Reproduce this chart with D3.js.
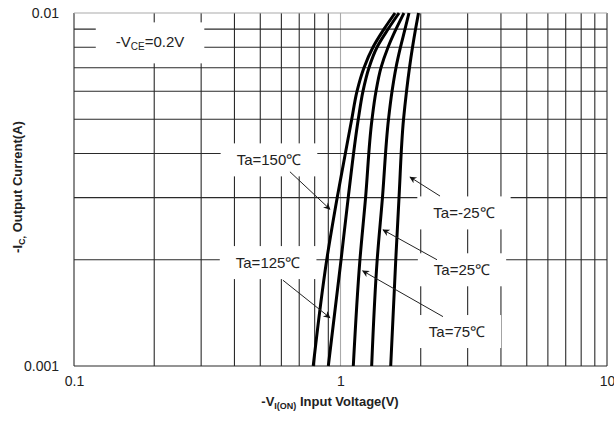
<!DOCTYPE html>
<html>
<head>
<meta charset="utf-8">
<script src="https://cdn.jsdelivr.net/npm/d3@7"></script>
<style>
body { margin: 0; background: #fff; }
svg { display: block; font-family: "Liberation Sans", Arial, sans-serif; }
</style>
</head>
<body>
<svg id="chart" width="614" height="421"></svg>
<script>
// -Ic (A) where each curve was read
const current = [0.001, 0.002, 0.003, 0.005, 0.006, 0.007, 0.008, 0.009, 0.01];
// -VI(on) (V) per ambient temperature
const v_150 = [0.790, 0.888, 0.972, 1.102, 1.153, 1.225, 1.324, 1.456, 1.602];
const v_125 = [0.900, 1.005, 1.069, 1.166, 1.214, 1.279, 1.371, 1.508, 1.658];
const v_75  = [1.117, 1.183, 1.242, 1.313, 1.359, 1.419, 1.508, 1.615, 1.730];
const v_25  = [1.309, 1.373, 1.437, 1.514, 1.561, 1.615, 1.679, 1.746, 1.807];
const v_m25 = [1.543, 1.612, 1.658, 1.724, 1.769, 1.815, 1.863, 1.912, 1.962];
const temps = ["150", "125", "75", "25", "-25"];
const xTicks = [0.1, 1, 10];
const yTicks = [0.001, 0.01];

const svg = d3.select("#chart");
const margin = {left: 74, right: 7, top: 13, bottom: 55};
const W = 614, H = 421;

const x = d3.scaleLog().domain([0.1, 10]).range([margin.left, W - margin.right]);
const y = d3.scaleLog().domain([0.001, 0.01]).range([H - margin.bottom, margin.top]);

const grid = svg.append("g");
// vertical grid
grid.selectAll(".vg")
	.data(x.ticks())
	.enter().append("line")
	.attr("x1", d => x(d)).attr("x2", d => x(d))
	.attr("y1", y(0.001)).attr("y2", y(0.01))
	.attr("stroke", d => d === 1 ? "#aaa" : "#2a2a2a")
	.attr("stroke-width", 1.1);
// horizontal grid
grid.selectAll(".hg")
	.data(y.ticks())
	.enter().append("line")
	.attr("x1", x(0.1)).attr("x2", x(10))
	.attr("y1", d => y(d)).attr("y2", d => y(d))
	.attr("stroke", d => d === 0.01 ? "#aaa" : "#2a2a2a")
	.attr("stroke-width", 1.1);

// axes (labels only)
const xAxis = svg.append("g")
	.attr("transform", "translate(0," + (y(0.001) + 7) + ")")
	.call(d3.axisBottom(x).tickValues(xTicks).tickSize(0).tickFormat(d => String(d)));
const yAxis = svg.append("g")
	.attr("transform", "translate(" + (x(0.1) - 12) + ",0)")
	.call(d3.axisLeft(y).tickValues(yTicks).tickSize(0).tickFormat(d => String(d)));
[xAxis, yAxis].forEach(a => {
	a.select(".domain").remove();
	a.selectAll("text").attr("font-size", 14).attr("fill", "#222")
		.attr("font-family", "'Liberation Sans', Arial, sans-serif");
});

// annotations: text, text pos (V, I), arrow from, arrow to
const notes = [
	{t: "Ta=150℃", at: [0.539, 0.00383], a: [[0.646, 0.00355], [0.913, 0.00278]]},
	{t: "Ta=125℃", at: [0.535, 0.00196], a: [[0.608, 0.00175], [0.913, 0.00137]]},
	{t: "Ta=-25℃", at: [2.906, 0.00271], a: [[2.363, 0.00303], [1.823, 0.00343]]},
	{t: "Ta=25℃",  at: [2.857, 0.00187], a: [[2.302, 0.00200], [1.444, 0.00243]]},
	{t: "Ta=75℃",  at: [2.736, 0.00125], a: [[2.424, 0.00138], [1.211, 0.00186]]}
];

const defs = svg.append("defs");
defs.append("marker")
	.attr("id", "arr")
	.attr("viewBox", "0 0 10 10")
	.attr("refX", 9).attr("refY", 5)
	.attr("markerWidth", 9).attr("markerHeight", 7)
	.attr("markerUnits", "userSpaceOnUse")
	.attr("orient", "auto")
	.append("path").attr("d", "M0,0 L10,5 L0,10 L3,5 z").attr("fill", "#111");

// white boxes behind labels
const boxes = svg.append("g");
const labels = svg.append("g");

const vce = labels.append("text")
	.attr("x", x(0.1929)).attr("y", y(0.00827))
	.attr("dy", "0.35em").attr("text-anchor", "middle")
	.attr("font-size", 15).attr("fill", "#222");
vce.append("tspan").text("-V");
vce.append("tspan").text("CE").attr("font-size", 10).attr("dy", 3);
vce.append("tspan").text("=0.2V").attr("dy", -3);

notes.forEach(n => {
	labels.append("text")
		.attr("x", x(n.at[0])).attr("y", y(n.at[1]))
		.attr("dy", "0.35em").attr("text-anchor", "middle")
		.attr("font-size", 15).attr("fill", "#222")
		.text(n.t);
});

labels.selectAll("text").each(function(d, i) {
	const b = this.getBBox();
	const px = i === 0 ? 20 : 16, py = i === 0 ? 11 : 8;
	boxes.append("rect")
		.attr("x", b.x - px).attr("y", b.y - py)
		.attr("width", b.width + 2 * px).attr("height", b.height + 2 * py)
		.attr("fill", "#fff");
});

// curves
const series = [v_150, v_125, v_75, v_25, v_m25];
const line = d3.line()
	.x(d => x(d[0])).y(d => y(d[1]))
	.curve(d3.curveMonotoneY);
svg.append("g").selectAll("path")
	.data(series.map(s => s.map((v, i) => [v, current[i]])))
	.enter().append("path")
	.attr("d", line)
	.attr("fill", "none")
	.attr("stroke", "#000")
	.attr("stroke-width", 3);

svg.append("g").selectAll("line")
	.data(notes)
	.enter().append("line")
	.attr("x1", d => x(d.a[0][0])).attr("y1", d => y(d.a[0][1]))
	.attr("x2", d => x(d.a[1][0])).attr("y2", d => y(d.a[1][1]))
	.attr("stroke", "#222").attr("stroke-width", 1)
	.attr("marker-end", "url(#arr)");

// axis titles
const xt = svg.append("text")
	.attr("x", 330).attr("y", 406)
	.attr("text-anchor", "middle")
	.attr("font-size", 13).attr("font-weight", "bold").attr("fill", "#222");
xt.append("tspan").text("-V");
xt.append("tspan").text("I(ON)").attr("font-size", 9).attr("dy", 3);
xt.append("tspan").text(" Input Voltage(V)").attr("dy", -3);

const yt = svg.append("text")
	.attr("transform", "translate(22," + 187 + ") rotate(-90)")
	.attr("text-anchor", "middle")
	.attr("font-size", 13).attr("font-weight", "bold").attr("fill", "#222");
yt.append("tspan").text("-I");
yt.append("tspan").text("C,").attr("font-size", 9).attr("dy", 3);
yt.append("tspan").text("  Output Current(A)").attr("dy", -3);
</script>
</body>
</html>
